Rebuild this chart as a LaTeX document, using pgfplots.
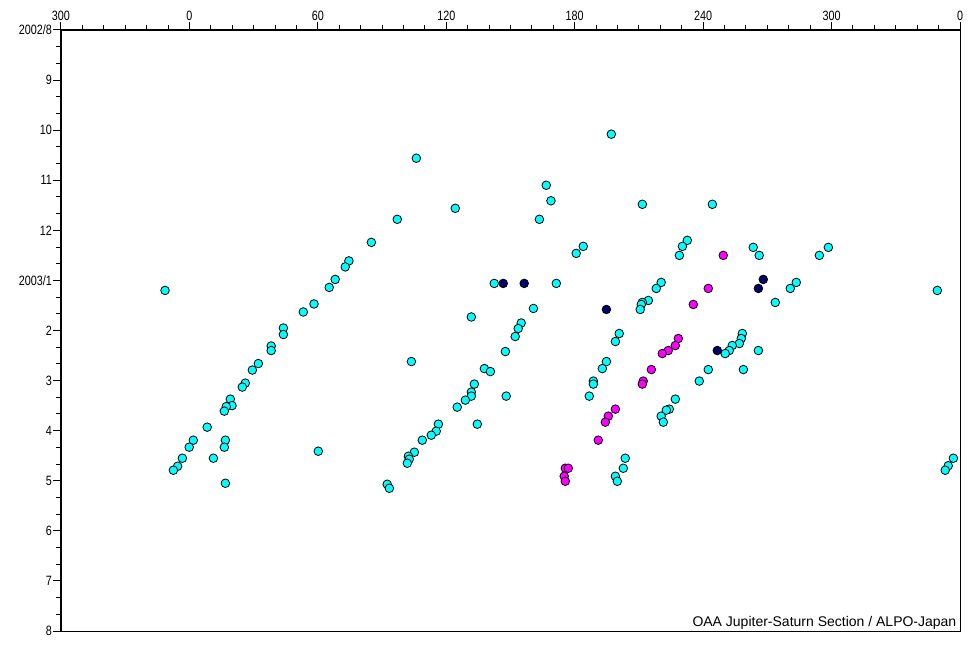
\documentclass[border=0pt]{standalone}
\usepackage{fontspec}
\setmainfont{Liberation Sans}
\newfontfamily\tickfont[FakeStretch=0.8]{Liberation Sans}
\usepackage{pgfplots}
\pgfplotsset{compat=1.18}

\definecolor{spotcyan}{RGB}{0,255,255}
\definecolor{spotmag}{RGB}{255,0,255}
\definecolor{spotnavy}{RGB}{0,0,102}

\pgfplotsset{spot/.style={only marks, mark=*, mark size=4.3pt,
  mark options={draw=black, fill=#1, line width=0.8pt}}}

\begin{document}
\begin{tikzpicture}
\begin{axis}[
  name=ax,
  scale only axis,
  width=899pt, height=601pt,
  xmin=-60, xmax=360,
  ymin=0, ymax=12,
  y dir=reverse,
  xtick={-60,0,...,360},
  xticklabels={300,0,60,120,180,240,300,0},
  minor x tick num=5,
  ytick={0,...,12},
  yticklabels={2002/8,9,10,11,12,2003/1,2,3,4,5,6,7,8},
  minor y tick num=2,
  xtick pos=right, xticklabel pos=right, ytick pos=left,
  tick align=outside,
  major tick length=8pt, minor tick length=5pt,
  tick style={black, line width=1pt},
  axis line style={line width=1pt},
  tick label style={font=\tickfont\fontsize{13.5}{15}\selectfont},
  yticklabel style={inner sep=1pt},
  xticklabel style={inner sep=1pt},
  clip=false,
]
% bright cyan spots
\addplot[spot=spotcyan] coordinates {
(-11.4,5.20) (106.0,2.56) (97.1,3.78) (85.0,4.24) (74.5,4.61) (72.8,4.73)
(68.1,4.98) (65.3,5.14) (58.2,5.47) (53.2,5.63) (43.9,5.95) (43.9,6.08)
(38.2,6.31) (38.2,6.40) (32.2,6.66) (29.4,6.79) (26.1,7.05) (24.7,7.13)
(19.1,7.37) (19.9,7.50) (17.2,7.52) (16.3,7.61) (8.3,7.93) (1.8,8.19)
(-0.1,8.33) (16.8,8.19) (16.3,8.33) (-3.3,8.55) (11.2,8.55) (60.2,8.41)
(-5.5,8.71) (-7.5,8.79) (16.8,9.05)
(124.2,3.56) (166.7,3.10) (168.9,3.41) (163.5,3.78) (184.0,4.32) (180.7,4.46)
(142.4,5.06) (171.4,5.06) (160.7,5.56) (131.7,5.73) (155.0,5.85) (153.6,5.96)
(152.2,6.12) (147.6,6.42) (103.7,6.62) (137.8,6.76) (140.6,6.82) (133.1,7.07)
(131.7,7.23) (131.7,7.31) (148.0,7.31) (128.9,7.39) (125.1,7.53) (116.3,7.87)
(134.5,7.87) (115.3,8.01) (113.0,8.09) (108.8,8.19) (105.1,8.43) (102.3,8.51)
(102.7,8.57) (101.8,8.65) (92.4,9.07) (93.4,9.15)
(197.1,2.08) (211.6,3.48) (244.3,3.48) (232.6,4.20) (230.3,4.32) (228.9,4.50)
(263.4,4.34) (266.2,4.50) (298.5,4.34) (294.3,4.50) (283.5,5.04) (280.7,5.16)
(273.7,5.44) (220.4,5.04) (218.1,5.16) (214.4,5.40) (211.6,5.44) (211.1,5.48)
(210.6,5.58) (349.4,5.20) (200.8,6.06) (199.0,6.22) (194.8,6.62) (192.9,6.76)
(188.7,7.01) (188.7,7.07) (186.8,7.31) (203.6,8.55) (202.7,8.75) (199.0,8.91)
(199.9,9.01) (258.3,6.06) (257.8,6.16) (256.9,6.26) (253.6,6.30) (252.2,6.40)
(250.3,6.46) (265.8,6.40) (242.4,6.78) (258.8,6.78) (238.2,7.01) (227.0,7.37)
(224.2,7.57) (222.8,7.59) (220.4,7.71) (221.4,7.83)
(356.9,8.55) (354.5,8.70) (353.1,8.79)
};
% magenta spots
\addplot[spot=spotmag] coordinates {
(249.4,4.50) (242.4,5.16) (235.4,5.48) (228.4,6.16) (227.0,6.30) (223.7,6.40)
(220.9,6.46) (215.8,6.78) (212.0,7.01) (211.6,7.07) (199.0,7.57) (195.7,7.71)
(194.3,7.83) (191.0,8.19) (175.6,8.75) (177.0,8.75) (175.1,8.91) (175.6,9.01)
};
% dark spots
\addplot[spot=spotnavy] coordinates {
(146.6,5.06) (156.4,5.06) (194.8,5.58) (268.1,4.98) (265.8,5.16) (246.6,6.40)
};
\draw[line width=2pt] (axis description cs:0,0) -- (axis description cs:0,1)
  -- (axis description cs:1,1);
\node[anchor=south east, inner sep=1.5pt, xshift=-2pt,
  font=\fontsize{14}{16}\selectfont] at (axis description cs:1,0)
  {OAA Jupiter-Saturn Section / ALPO-Japan};
\end{axis}
\path ([xshift=-61pt,yshift=-19pt]ax.south west) rectangle
  ([xshift=20pt,yshift=30pt]ax.north east);
\end{tikzpicture}
\end{document}
